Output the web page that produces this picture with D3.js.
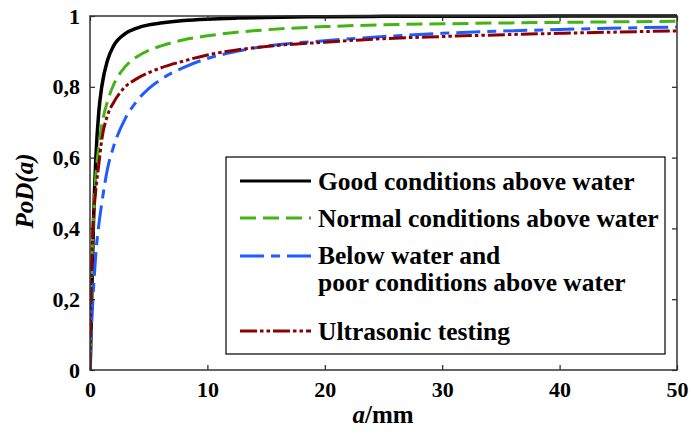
<!DOCTYPE html>
<html>
<head>
<meta charset="utf-8">
<script src="https://cdn.jsdelivr.net/npm/d3@7"></script>
<style>
  body { margin: 0; background: #fff; }
  svg { display: block; }
  text { font-family: "Liberation Serif", "DejaVu Serif", serif; font-weight: bold; fill: #000; }
</style>
</head>
<body>
<svg width="692" height="436"></svg>
<script>
/* --------------- Datos --------------- */
const crackSize = [0, 0.05, 0.1, 0.2, 0.3, 0.5, 0.75, 1, 1.5, 2, 3, 4, 5, 6, 8, 10, 12.5, 15, 20, 25, 30, 40, 50];
const podGood       = [0, 0.05, 0.13, 0.29, 0.42, 0.60, 0.73, 0.80, 0.876, 0.915, 0.950, 0.966, 0.975, 0.980, 0.987, 0.991, 0.994, 0.996, 0.998, 0.999, 0.999, 1.0, 1.0];
const podNormal     = [0, 0.12, 0.22, 0.35, 0.43, 0.55, 0.63, 0.69, 0.76, 0.805, 0.857, 0.885, 0.903, 0.915, 0.933, 0.944, 0.954, 0.961, 0.970, 0.975, 0.978, 0.982, 0.985];
const podBelow      = [0, 0.06, 0.10, 0.17, 0.23, 0.33, 0.41, 0.47, 0.57, 0.63, 0.71, 0.76, 0.795, 0.82, 0.855, 0.88, 0.90, 0.915, 0.930, 0.942, 0.951, 0.962, 0.969];
const podUltrasonic = [0, 0.15, 0.24, 0.36, 0.43, 0.51, 0.58, 0.65, 0.72, 0.755, 0.80, 0.823, 0.84, 0.853, 0.873, 0.89, 0.904, 0.914, 0.926, 0.936, 0.942, 0.951, 0.958];

const seriesNames = ["Good conditions above water", "Normal conditions above water", ["Below water and", "poor conditions above water"], "Ultrasonic testing"];
const xTicks = [0, 10, 20, 30, 40, 50];
const yTicks = [0, 0.2, 0.4, 0.6, 0.8, 1];

const series = [
  { values: podGood,       color: "#000000", dash: null,                width: 3.5 },
  { values: podNormal,     color: "#44b414", dash: "16,7",              width: 3 },
  { values: podBelow,      color: "#1f5cff", dash: "24,7,9,7",          width: 3 },
  { values: podUltrasonic, color: "#8b0000", dash: "17,3,3.5,3,3.5,3", width: 3 }
];

/* --------------- Grafica --------------- */
const svg = d3.select("svg");
const mLeft = 90, mRight = 677, mTop = 16, mBottom = 370;

const x = d3.scaleLinear().domain([0, 50]).range([mLeft, mRight]);
const y = d3.scaleLinear().domain([0, 1]).range([mBottom, mTop]);
const fmt = d => d === 0 || d === 1 ? String(d) : d3.format(".1f")(d).replace(".", ",");

svg.append("clipPath").attr("id", "plot")
  .append("rect").attr("x", mLeft).attr("y", mTop - 2).attr("width", mRight - mLeft).attr("height", mBottom - mTop + 2);

// curvas
const line = d3.line()
  .x((d, i) => x(crackSize[i]))
  .y(d => y(d))
  .curve(d3.curveMonotoneX);

svg.append("g").attr("clip-path", "url(#plot)")
  .selectAll("path")
  .data(series)
  .enter().append("path")
  .attr("d", d => line(d.values))
  .attr("fill", "none")
  .attr("stroke", d => d.color)
  .attr("stroke-width", d => d.width)
  .attr("stroke-dasharray", d => d.dash);

// ejes (ticks hacia adentro en los cuatro lados)
const tickLen = 5;
svg.append("g").attr("transform", `translate(0,${mBottom})`)
  .call(d3.axisBottom(x).tickValues(xTicks).tickSize(-tickLen).tickPadding(11).tickFormat(d3.format("d")))
  .call(g => g.select(".domain").remove())
  .call(g => g.selectAll("text").style("font-size", "22px"));

svg.append("g").attr("transform", `translate(0,${mTop})`)
  .call(d3.axisTop(x).tickValues(xTicks).tickSize(-tickLen).tickFormat(""))
  .call(g => g.select(".domain").remove());

svg.append("g").attr("transform", `translate(${mLeft},0)`)
  .call(d3.axisLeft(y).tickValues(yTicks).tickSize(-tickLen).tickPadding(10).tickFormat(fmt))
  .call(g => g.select(".domain").remove())
  .call(g => g.selectAll("text").style("font-size", "22px"));

svg.append("g").attr("transform", `translate(${mRight},0)`)
  .call(d3.axisRight(y).tickValues(yTicks).tickSize(-tickLen).tickFormat(""))
  .call(g => g.select(".domain").remove());

svg.selectAll("g").attr("font-family", null);
svg.selectAll(".tick line").attr("stroke", "#222").attr("stroke-width", 1.2);

// marco
svg.append("rect")
  .attr("x", mLeft).attr("y", mTop)
  .attr("width", mRight - mLeft).attr("height", mBottom - mTop)
  .attr("fill", "none").attr("stroke", "#333").attr("stroke-width", 1.5);

// etiquetas de ejes
const xl = svg.append("text").attr("x", 383).attr("y", 423).attr("text-anchor", "middle").style("font-size", "25px");
xl.append("tspan").style("font-style", "italic").text("a");
xl.append("tspan").text("/mm");

svg.append("text")
  .attr("transform", "translate(33,191) rotate(-90)")
  .attr("text-anchor", "middle")
  .style("font-size", "25px").style("font-style", "italic")
  .text("PoD(a)");

// leyenda
svg.append("rect")
  .attr("x", 226).attr("y", 157).attr("width", 439).attr("height", 197)
  .attr("fill", "#fff").attr("stroke", "#000").attr("stroke-width", 1.2);

const legendLineY = [181, 218, 256, 331];
const legendTextY = [[190], [227], [264, 291], [340]];

const legend = svg.selectAll(".leg")
  .data(series)
  .enter().append("g").attr("class", "leg");

legend.append("line")
  .attr("x1", 240).attr("x2", 311)
  .attr("y1", (d, i) => legendLineY[i]).attr("y2", (d, i) => legendLineY[i])
  .attr("stroke", d => d.color)
  .attr("stroke-width", 3)
  .attr("stroke-dasharray", d => d.dash);

legend.each(function (d, i) {
  const names = [].concat(seriesNames[i]);
  names.forEach((s, j) => {
    d3.select(this).append("text")
      .attr("x", 318).attr("y", legendTextY[i][j])
      .style("font-size", "25.5px")
      .text(s);
  });
});
</script>
</body>
</html>
